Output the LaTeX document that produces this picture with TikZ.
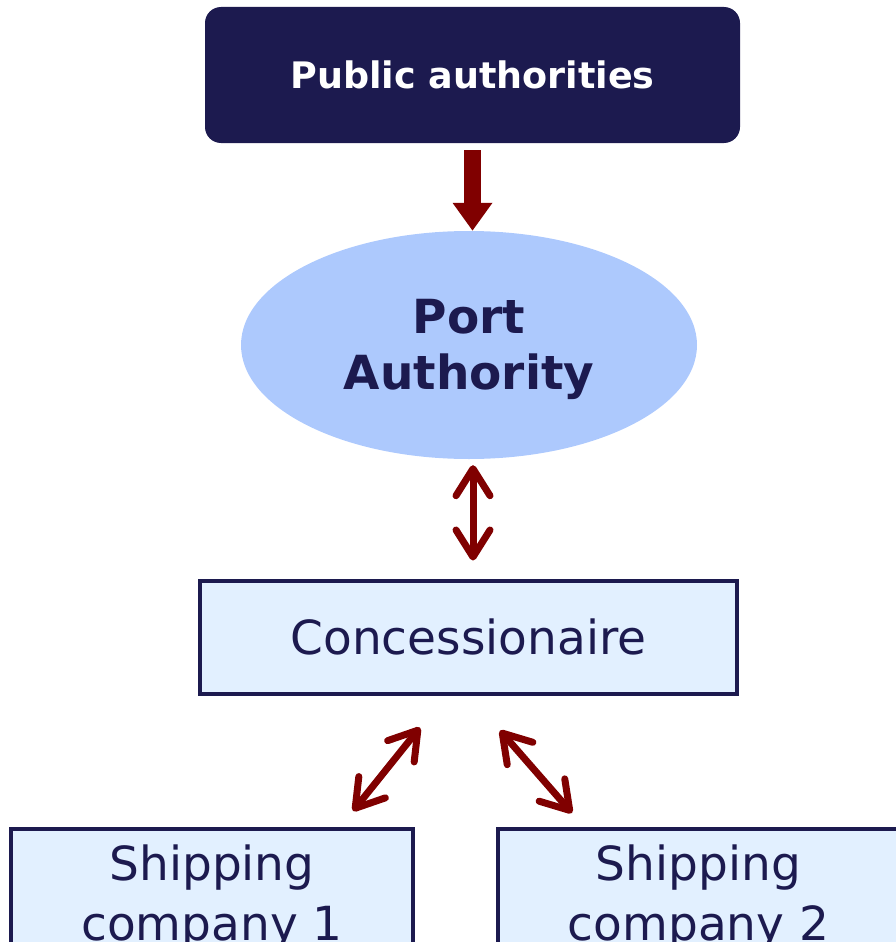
\documentclass[tikz,border=0pt]{standalone}
\usepackage{fontspec}
\setmainfont{DejaVu Sans}
\usepackage{xcolor}
\usepackage{tikz}
\usetikzlibrary{arrows.meta,positioning,calc,shapes.geometric}
\definecolor{navy}{HTML}{1C1A4F}
\definecolor{portblue}{HTML}{ADC9FD}
\definecolor{paleblue}{HTML}{E2F0FF}
\definecolor{darkred}{HTML}{800000}
\tikzset{
  pabox/.style={fill=navy,rounded corners=16pt,minimum width=535pt,minimum height=136pt,
    text=white,font=\fontsize{36.5}{44}\selectfont\bfseries},
  portell/.style={ellipse,fill=portblue,minimum width=456pt,minimum height=228pt,inner sep=0pt,
    text=navy,align=center,text depth=1pt,font=\fontsize{47}{56}\selectfont\bfseries},
  concbox/.style={draw=navy,line width=4pt,fill=paleblue,minimum width=537pt,minimum height=113pt,
    text=navy,font=\fontsize{47}{56}\selectfont},
  shipbox/.style={draw=navy,line width=4pt,fill=paleblue,minimum width=402pt,minimum height=138pt,
    text=navy,align=center,font=\fontsize{47}{60}\selectfont},
  arcdown/.style={-{Triangle[length=28pt,width=38pt]},darkred,line width=17pt},
  arcdouble/.style={{Straight Barb[length=27pt,width=34pt,round]}-{Straight Barb[length=27pt,width=34pt,round]},
    darkred,line width=7pt,line cap=round}
}

\begin{document}
\begin{tikzpicture}[x=1pt,y=-1pt]
  \useasboundingbox (0,0) rectangle (896,942);
  \node[pabox] (pubauth) at (472.5,75) {Public authorities};
  \node[portell] (portauth) at (469,345) {Port\\Authority};
  \node[concbox] (conc) at (468.5,637) {Concessionaire};
  \node[shipbox] (ship1) at (212,898) {Shipping\\company 1};
  \node[shipbox] (ship2) at (698.5,898) {Shipping\\company 2};
  % arrows between the levels
  \draw[arcdown,shorten <=7pt] (pubauth.south) -- (pubauth.south |- portauth.north);
  \draw[arcdouble] ($(portauth.south)+(4,6)$) -- ($(conc.north)+(4.5,-18)$);
  \draw[arcdouble] ($(conc.south)+(-48.5,32)$) -- ($(ship1.north)+(141,-16)$);
  \draw[arcdouble] ($(conc.south)+(31.5,35)$) -- ($(ship2.north)+(-126.5,-14)$);
\end{tikzpicture}
\end{document}
